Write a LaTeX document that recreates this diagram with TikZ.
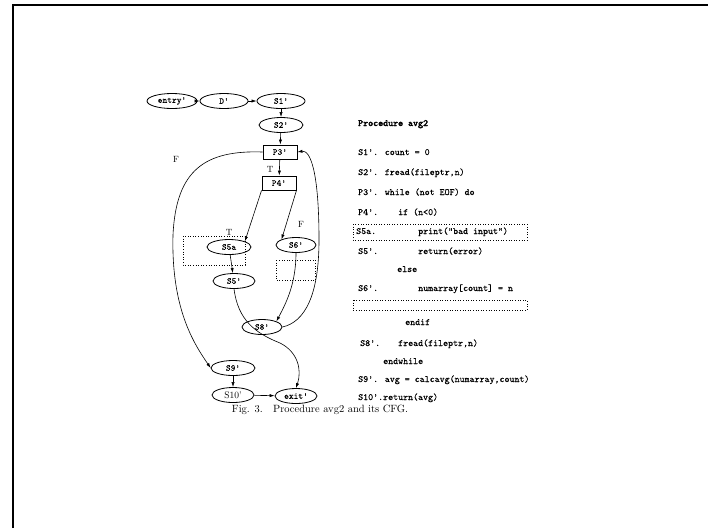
\documentclass[tikz,border=0pt]{standalone}
\usepackage{fontspec}
\setmainfont{lmroman10-regular.otf}
\newfontfamily\ttcodefont{lmmono10-regular.otf}[FakeBold=0.3]
\newfontfamily\ttboldfont{lmmono10-regular.otf}[FakeBold=3]
\usetikzlibrary{shapes.geometric,arrows.meta}
\begin{document}
\begin{tikzpicture}[x=1pt,y=-1pt,
  every node/.style={inner sep=0pt},
  ell/.style={draw,ellipse,minimum width=#1,minimum height=15pt,font=\ttcodefont\fontsize{9}{9}\selectfont,line width=0.8pt},
  ell/.default=44pt,
  box/.style={draw,rectangle,minimum width=34pt,minimum height=14pt,font=\ttcodefont\fontsize{9}{9}\selectfont,line width=0.9pt},
  arr/.style={-{Latex[length=5pt,width=3.2pt]},line width=0.6pt},
  code/.style={anchor=base west,font=\ttcodefont\fontsize{9.5}{11}\selectfont},
  lab/.style={font=\rmfamily\fontsize{9}{9}\selectfont},
  dotbox/.style={dotted,line width=0.6pt}
]
\useasboundingbox (0,0) rectangle (708,528);
\draw[line width=1.3pt] (13,528) -- (13,5) -- (708,5);

% graph nodes
\node[ell=50pt] (entry) at (172,101) {entry'};
\node[ell=48pt] (D) at (224,101) {D'};
\node[ell=48pt] (S1) at (281,101) {S1'};
\node[ell=44pt] (S2) at (281,125) {S2'};
\node[box] (P3) at (280,152) {P3'};
\node[box] (P4) at (279,183) {P4'};
\node[ell=44pt] (S5a) at (229,247) {S5a};
\node[ell=40pt] (S6) at (296,245) {S6'};
\node[ell=42pt] (S5) at (234,281) {S5'};
\node[ell=40pt] (S8) at (262,327) {S8'};
\node[ell=44pt] (S9) at (233,368) {S9'};
\node[ell=42pt,font=\rmfamily\fontsize{9.5}{9}\selectfont] (S10) at (233,395) {S10'};
\node[ell=42pt] (exit) at (296,396) {exit'};

% dotted boxes in graph
\draw[dotbox] (183,236) rectangle (245,265);
\draw[dotbox] (276,260) rectangle (315,280);

% labels
\node[lab] (lT1) at (270,169) {T};
\node[lab] (lF1) at (176,159) {F};
\node[lab] (lT2) at (229,232) {T};
\node[lab] (lF2) at (301,224) {F};

% edges
\draw[arr] (entry) -- (D);
\draw[arr] (D) -- (S1);
\draw[arr] (S1) -- (S2);
\draw[arr] (S2) -- (P3);
\draw[arr] (P3) -- (P4);
\draw[arr] (P4.south west) -- (S5a.north east);
\draw[arr] (P4.south east) -- (S6.north west);
\draw[arr] (S5a) -- (S5);
\draw[arr] (S9) -- (S10);
\draw[arr] (S10) -- (exit);
\draw[arr] (S6.south) .. controls (296,285) and (285,305) .. (S8.north east);
\draw[arr] (S8.east) .. controls (305,322) and (319,295) .. (319,240)
  .. controls (319,170) and (310,150) .. (P3.east);
\draw[arr] (P3.west) .. controls (205,150) and (176,170) .. (173,235)
  .. controls (171,310) and (195,345) .. (S9.west);
\draw[arr] (S5.south) .. controls (238,320) and (255,333) .. (280,343)
  .. controls (298,352) and (302,370) .. (exit.north);

% code
\node[code,font=\ttboldfont\fontsize{9.5}{11}\selectfont] (title) at (358,126) {Procedure avg2};
\node[code] (c1) at (358,155) {S1'. count = 0};
\node[code] (c2) at (358,175) {S2'. fread(fileptr,n)};
\node[code] (c3) at (358,195) {P3'. while (not EOF) do};
\node[code] (c4l) at (358,215) {P4'.};
\node[code] (c4) at (398,215) {if (n<0)};
\node[code] (c5l) at (356,234) {S5a.};
\node[code] (c5) at (418,234) {print("bad input")};
\node[code] (c6l) at (358,254) {S5'.};
\node[code] (c6) at (418,254) {return(error)};
\node[code] (c7) at (397,272) {else};
\node[code] (c8l) at (358,291) {S6'.};
\node[code] (c8) at (418,291) {numarray[count] = n};
\node[code] (c9) at (405,325) {endif};
\node[code] (c10l) at (360,346) {S8'.};
\node[code] (c10) at (398,346) {fread(fileptr,n)};
\node[code] (c11) at (383,364) {endwhile};
\node[code] (c12) at (358,382) {S9'. avg = calcavg(numarray,count)};
\node[code] (c13) at (358,400) {S10'.return(avg)};
\draw[dotbox] (353,224) rectangle (527,240);
\draw[dotbox] (353,300) rectangle (527,310);

% caption
\node[font=\rmfamily\fontsize{10.5}{12}\selectfont,anchor=base] (cap) at (320,412) {Fig. 3.\quad Procedure avg2 and its CFG.};
\end{tikzpicture}
\end{document}
